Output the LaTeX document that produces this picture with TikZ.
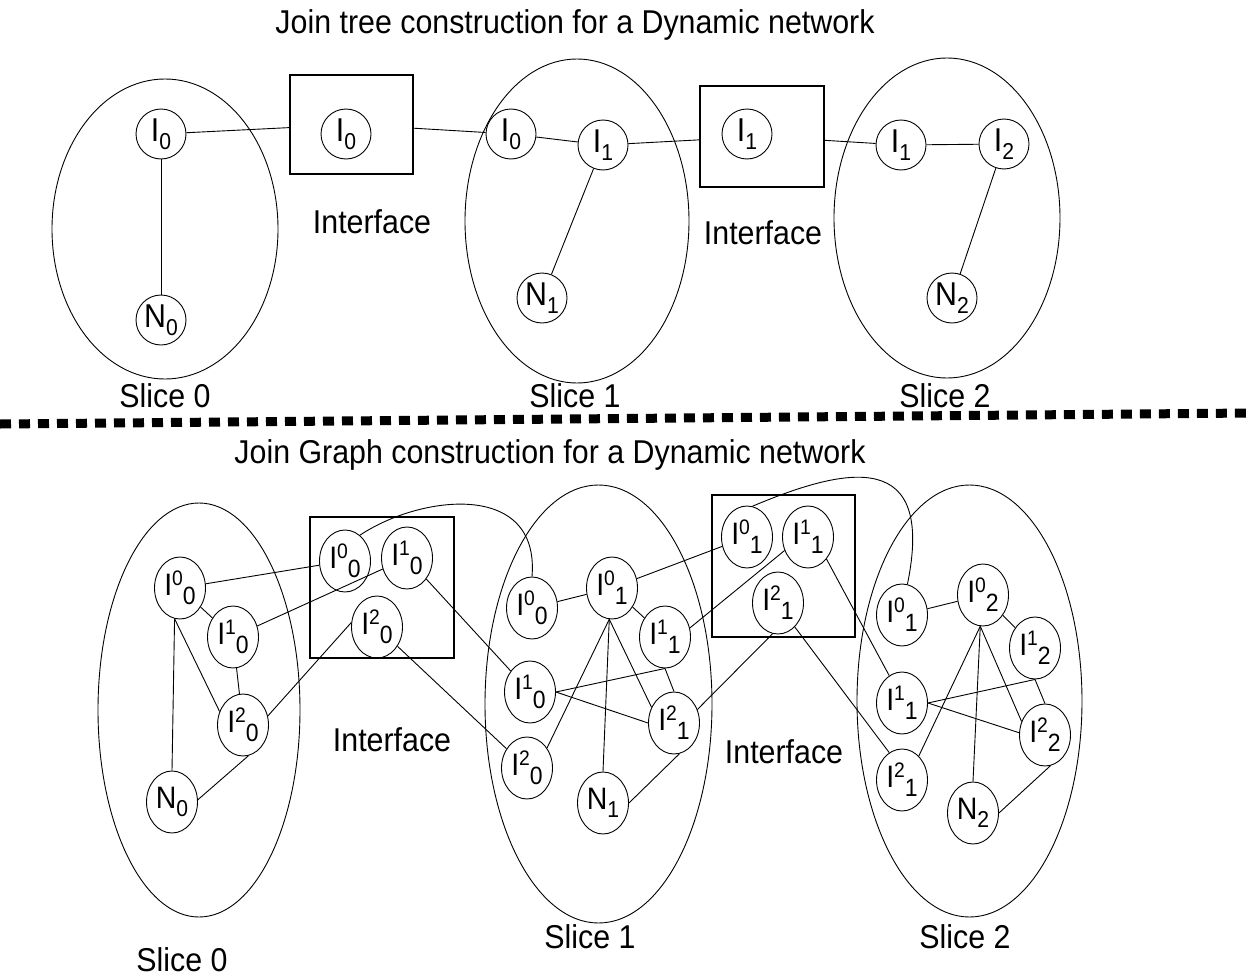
\documentclass[tikz,border=0pt]{standalone}
\usepackage{fontspec}
\setmainfont{Liberation Sans}[FakeStretch=0.92]
\usetikzlibrary{shapes.geometric}
\newcommand\Lss[3]{#1\raisebox{10pt}{\fontsize{21}{21}\selectfont #2}\raisebox{-9pt}{\fontsize{25}{25}\selectfont #3}}
\newcommand\Ls[2]{#1\raisebox{-8pt}{\fontsize{23}{23}\selectfont #2}}
\begin{document}
\begin{tikzpicture}[x=1pt,y=-1pt,line width=0.9pt,
  tnode/.style={draw,circle,minimum size=50pt,inner sep=0pt,font=\fontsize{33}{34}\selectfont},
  bnode/.style={draw,ellipse,minimum width=51pt,minimum height=62pt,inner sep=0pt,font=\fontsize{31}{32}\selectfont},
  ibox/.style={draw,rectangle,inner sep=0pt,line width=1.1pt},
  lbl/.style={font=\fontsize{33}{36}\selectfont,inner sep=0pt}
]
\useasboundingbox (0,0) rectangle (1251,977);
% ---------- top: join tree ----------
\node[lbl] (title1) at (575,25) {Join tree construction for a Dynamic network};
\draw (165,229) ellipse [x radius=113pt, y radius=150pt];
\draw (577,221) ellipse [x radius=112pt, y radius=162pt];
\draw (947,218) ellipse [x radius=113pt, y radius=160pt];
\node[ibox,minimum width=123pt,minimum height=99pt] (box1) at (351.5,124.5) {};
\node[ibox,minimum width=124pt,minimum height=101pt] (box2) at (762,136.5) {};
\node[tnode] (ta0) at (161,134) {\Ls{I}{0}};
\node[tnode] (tn0) at (161,320) {\Ls{N}{0}};
\node[tnode] (tb0) at (346,134) {\Ls{I}{0}};
\node[tnode] (tc0) at (511,134) {\Ls{I}{0}};
\node[tnode] (tc1) at (603,145) {\Ls{I}{1}};
\node[tnode] (tcn) at (542,298) {\Ls{N}{1}};
\node[tnode] (td1) at (747,134) {\Ls{I}{1}};
\node[tnode] (te1) at (901,145) {\Ls{I}{1}};
\node[tnode] (te2) at (1004,144) {\Ls{I}{2}};
\node[tnode] (ten) at (952,298) {\Ls{N}{2}};
\node[lbl] (if1) at (372,222) {Interface};
\node[lbl] (if2) at (763,233) {Interface};
\node[lbl] (s0) at (165,396) {Slice 0};
\node[lbl] (s1) at (575,396) {Slice 1};
\node[lbl] (s2) at (945,396) {Slice 2};
\draw (ta0) -- (box1);
\draw (ta0) -- (tn0);
\draw (box1) -- (tc0);
\draw (tc0) -- (tc1);
\draw (tc1) -- (tcn);
\draw (tc1) -- (box2);
\draw (box2) -- (te1);
\draw (te1) -- (te2);
\draw (te2) -- (ten);
% ---------- separator ----------
\coordinate (sepL) at (0,424);
\coordinate (sepR) at (1251,413);
\draw[line width=9pt,dash pattern=on 11pt off 8pt] (sepL) -- (sepR);
% ---------- bottom: join graph ----------
\node[lbl] (title2) at (550,455) {Join Graph construction for a Dynamic network};
\draw (199,710) ellipse [x radius=101pt, y radius=207pt];
\draw (598.5,704) ellipse [x radius=113.5pt, y radius=219pt];
\draw (969.5,701) ellipse [x radius=112.5pt, y radius=216pt];
\node[ibox,minimum width=144pt,minimum height=141pt] (B1) at (382,587.5) {};
\node[ibox,minimum width=143pt,minimum height=142pt] (B2) at (783.5,566) {};
% slice 0
\node[bnode] (a00) at (180,588) {\Lss{I}{0}{0}};
\node[bnode] (a10) at (233,637) {\Lss{I}{1}{0}};
\node[bnode] (a20) at (243,725) {\Lss{I}{2}{0}};
\node[bnode] (n0) at (172,802) {\Ls{N}{0}};
% interface 1
\node[bnode] (b00) at (345,561) {\Lss{I}{0}{0}};
\node[bnode] (b10) at (407,558) {\Lss{I}{1}{0}};
\node[bnode] (b20) at (377,627) {\Lss{I}{2}{0}};
% slice 1
\node[bnode] (c00) at (532,608) {\Lss{I}{0}{0}};
\node[bnode] (c01) at (612,588) {\Lss{I}{0}{1}};
\node[bnode] (c11) at (665,637) {\Lss{I}{1}{1}};
\node[bnode] (c10) at (530,692) {\Lss{I}{1}{0}};
\node[bnode] (c21) at (674,723) {\Lss{I}{2}{1}};
\node[bnode] (c20) at (527,768) {\Lss{I}{2}{0}};
\node[bnode] (n1) at (603,803) {\Ls{N}{1}};
% interface 2
\node[bnode] (d01) at (747,537) {\Lss{I}{0}{1}};
\node[bnode] (d11) at (808,537) {\Lss{I}{1}{1}};
\node[bnode] (d21) at (778,603) {\Lss{I}{2}{1}};
% slice 2
\node[bnode] (e01) at (902,615) {\Lss{I}{0}{1}};
\node[bnode] (e02) at (983,595) {\Lss{I}{0}{2}};
\node[bnode] (e12) at (1035,648) {\Lss{I}{1}{2}};
\node[bnode] (e11) at (902,703) {\Lss{I}{1}{1}};
\node[bnode] (e22) at (1045,735) {\Lss{I}{2}{2}};
\node[bnode] (e21) at (902,780) {\Lss{I}{2}{1}};
\node[bnode] (n2) at (973,813) {\Ls{N}{2}};
% labels
\node[lbl] (if3) at (392,740) {Interface};
\node[lbl] (if4) at (784,752) {Interface};
\node[lbl] (bs0) at (182,960) {Slice 0};
\node[lbl] (bs1) at (590,937) {Slice 1};
\node[lbl] (bs2) at (965,937) {Slice 2};
% edges slice 0
\draw (a00) -- (b00);
\draw (a00) -- (a10);
\draw (a00.-100) -- (a20.150);
\draw (a00.-100) -- (n0.north);
\draw (a10) -- (a20);
\draw (a10) -- (b10);
\draw (a20.20) -- (b20.170);
\draw (a20.-80) -- (n0.5);
% interface 1 to slice 1
\draw (b10) -- (c10);
\draw (b20) -- (c20);
\draw (b00.60) .. controls (420,495) and (540,480) .. (c00.north);
% slice 1
\draw (c00) -- (c01);
\draw (c01) -- (d01);
\draw (c01) -- (c11);
\draw (c01.-95) -- (n1.north);
\draw (c01.-95) -- (c20.45);
\draw (c01.-95) -- (c21.145);
\draw (c10.east) -- (c11.south);
\draw (c10.east) -- (c21.west);
\draw (c11.south) -- (c21.north);
\draw (c11.20) -- (d11.210);
\draw (c21.30) -- (d21.-100);
\draw (n1.east) -- (c21.-80);
% interface 2 to slice 2
\draw (d11.-50) -- (e11.115);
\draw (d21.-55) -- (e21.115);
\draw (d01.80) .. controls (850,465) and (935,450) .. (e01.80);
% slice 2
\draw (e01) -- (e02);
\draw (e02) -- (e12);
\draw (e02.-95) -- (n2.north);
\draw (e02.-95) -- (e21.55);
\draw (e02.-95) -- (e22.150);
\draw (e11.east) -- (e12.south);
\draw (e11.east) -- (e22.175);
\draw (e12.south) -- (e22.north);
\draw (n2.east) -- (e22.-80);
\end{tikzpicture}
\end{document}
